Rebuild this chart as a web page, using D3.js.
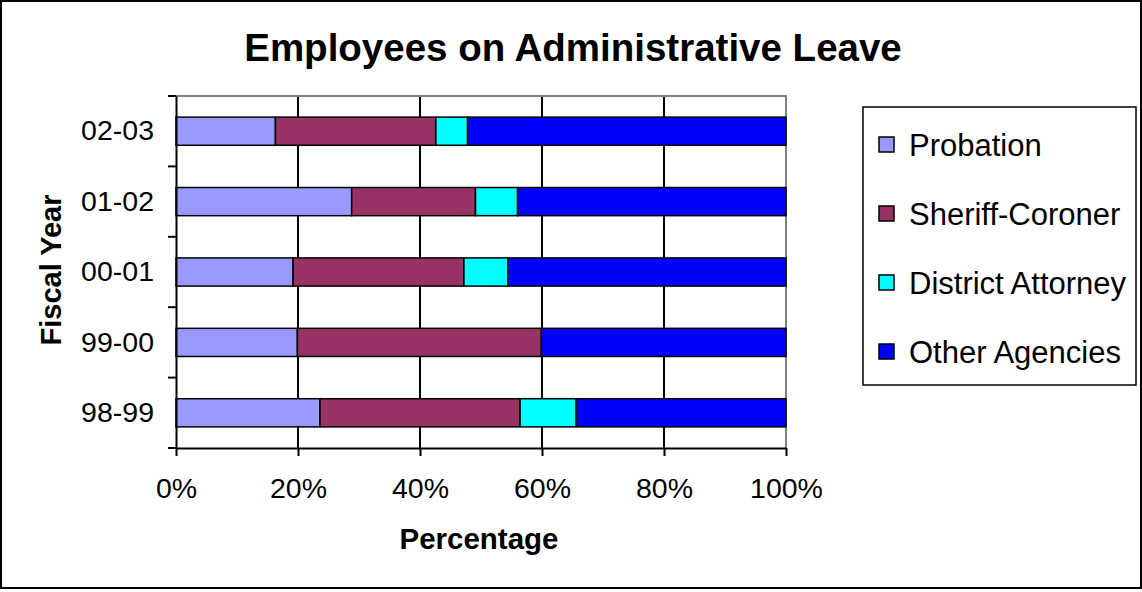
<!DOCTYPE html>
<html>
<head>
<meta charset="utf-8">
<script src="https://cdn.jsdelivr.net/npm/d3@7"></script>
<style>
  body { margin: 0; background: #fff; }
  text { font-family: "Liberation Sans", Arial, sans-serif; fill: #000; }
</style>
</head>
<body>
<div id="chart"></div>
<script>
// dados (percentual de cada agencia por ano fiscal)
var years = ["02-03", "01-02", "00-01", "99-00", "98-99"];
var agencies = ["Probation", "Sheriff-Coroner", "District Attorney", "Other Agencies"];
var colors = ["#9999FF", "#993366", "#00FFFF", "#0000FF"];
var probation = [16.3, 28.8, 19.2, 19.9, 23.6];
var sheriff   = [26.3, 20.3, 28.0, 40.0, 32.8];
var attorney  = [5.2, 6.9, 7.2, 0, 9.2];
var other     = [52.2, 44.0, 45.6, 40.1, 34.4];
var xTicks = [0, 20, 40, 60, 80, 100];

var table = years.map(function(y, i) {
    return {
        year: y,
        "Probation": probation[i],
        "Sheriff-Coroner": sheriff[i],
        "District Attorney": attorney[i],
        "Other Agencies": other[i]
    };
});

var W = 1142, H = 592;
var margin = { top: 96, right: 356, bottom: 144, left: 176 };
var width = W - margin.left - margin.right;
var height = H - margin.top - margin.bottom;

var svg = d3.select("#chart")
            .append("svg")
            .attr("width", W)
            .attr("height", H);

// moldura externa
svg.append("rect")
   .attr("x", 1).attr("y", 1)
   .attr("width", W - 2).attr("height", 587)
   .attr("fill", "#fff")
   .attr("stroke", "#000")
   .attr("stroke-width", 2);

// titulo
svg.append("text")
   .attr("x", 573)
   .attr("y", 61)
   .attr("text-anchor", "middle")
   .style("font-size", "38.5px")
   .style("font-weight", "bold")
   .text("Employees on Administrative Leave");

var g = svg.append("g")
           .attr("transform", "translate(" + margin.left + "," + margin.top + ")");

var xScale = d3.scaleLinear().domain([0, 100]).range([0, width]);
var yScale = d3.scaleBand().domain(years).range([0, height])
               .paddingInner(0.6).paddingOuter(0.3);

// linhas de grade
g.selectAll(".grid")
 .data(xTicks.filter(function(d) { return d > 0 && d < 100; }))
 .enter()
 .append("line")
 .attr("x1", function(d) { return xScale(d); })
 .attr("x2", function(d) { return xScale(d); })
 .attr("y1", 0)
 .attr("y2", height)
 .attr("stroke", "#000")
 .attr("stroke-width", 1.5)
 .attr("shape-rendering", "crispEdges");

// borda cinza (topo e direita)
g.append("path")
 .attr("d", "M0,0H" + width + "V" + height)
 .attr("fill", "none")
 .attr("stroke", "#808080")
 .attr("stroke-width", 2);

// barras empilhadas
var stack = d3.stack().keys(agencies)(table);

g.selectAll(".serie")
 .data(stack)
 .enter()
 .append("g")
 .attr("fill", function(d, i) { return colors[i]; })
 .selectAll("rect")
 .data(function(d) { return d; })
 .enter()
 .append("rect")
 .attr("x", function(d) { return xScale(d[0]); })
 .attr("y", function(d) { return yScale(d.data.year); })
 .attr("width", function(d) { return xScale(d[1]) - xScale(d[0]); })
 .attr("height", yScale.bandwidth())
 .attr("stroke", "#000")
 .attr("stroke-width", 1.5)
 .style("display", function(d) { return d[1] - d[0] > 0 ? null : "none"; });

// eixo x
var xAxis = g.append("g")
   .attr("transform", "translate(0," + height + ")")
   .call(d3.axisBottom(xScale)
           .tickValues(xTicks)
           .tickFormat(function(d) { return d + "%"; })
           .tickSizeInner(8)
           .tickSizeOuter(0)
           .tickPadding(22));
xAxis.select(".domain").attr("stroke-width", 2);
xAxis.selectAll(".tick line").attr("stroke-width", 2);
xAxis.selectAll("text").style("font-size", "28.5px").attr("font-family", null);

// eixo y (rotulos no centro, marcas entre categorias)
var yAxis = g.append("g")
   .call(d3.axisLeft(yScale).tickSize(0).tickPadding(22));
yAxis.select(".domain").attr("stroke-width", 2);
yAxis.selectAll("text").style("font-size", "28.5px").attr("font-family", null);

var step = yScale.step();
var bounds = d3.range(years.length + 1).map(function(i) { return i * step; });
g.selectAll(".ytick")
 .data(bounds)
 .enter()
 .append("line")
 .attr("x1", -8)
 .attr("x2", 0)
 .attr("y1", function(d) { return d; })
 .attr("y2", function(d) { return d; })
 .attr("stroke", "#000")
 .attr("stroke-width", 2);

// rotulos dos eixos
svg.append("text")
   .attr("x", 479)
   .attr("y", 549)
   .attr("text-anchor", "middle")
   .style("font-size", "29.5px")
   .style("font-weight", "bold")
   .text("Percentage");

svg.append("text")
   .attr("transform", "translate(61," + (margin.top + height / 2 - 2) + ") rotate(-90)")
   .attr("text-anchor", "middle")
   .style("font-size", "29px")
   .style("font-weight", "bold")
   .text("Fiscal Year");

// legenda
var legend = svg.append("g");
legend.append("rect")
      .attr("x", 863).attr("y", 107)
      .attr("width", 273).attr("height", 278)
      .attr("fill", "#fff")
      .attr("stroke", "#000")
      .attr("stroke-width", 1.5);

var item = legend.selectAll(".item")
    .data(agencies)
    .enter()
    .append("g")
    .attr("transform", function(d, i) { return "translate(879," + (145 + i * 69) + ")"; });

item.append("rect")
    .attr("x", 0).attr("y", -8)
    .attr("width", 15).attr("height", 15)
    .attr("fill", function(d, i) { return colors[i]; })
    .attr("stroke", "#000")
    .attr("stroke-width", 1.5);

item.append("text")
    .attr("x", 30)
    .attr("y", 10.5)
    .style("font-size", "31px")
    .text(function(d) { return d; });
</script>
</body>
</html>
